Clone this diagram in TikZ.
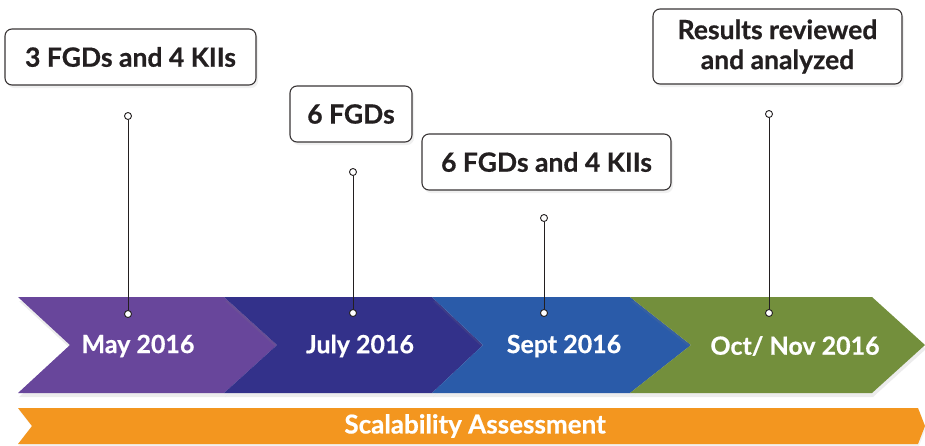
\documentclass[tikz,border=0pt]{standalone}
\usepackage{fontspec}
\setmainfont{Lato}[BoldFeatures={FakeBold=0.6}]
\usetikzlibrary{shadows}
\definecolor{cPurple}{HTML}{68469B}
\definecolor{cNavy}{HTML}{33318A}
\definecolor{cBlue}{HTML}{2A5BA9}
\definecolor{cGreen}{HTML}{738F3C}
\definecolor{cOrange}{HTML}{F3961F}
\definecolor{cText}{HTML}{231F20}
\begin{document}
\begin{tikzpicture}[x=1pt,y=-1pt,
  box/.style={draw=cText!90, line width=1.1pt, rounded corners=7pt, fill=white, align=center,
    font=\bfseries\fontsize{26.5}{30}\selectfont, text=cText, inner sep=0pt,
    drop shadow={shadow xshift=2pt,shadow yshift=-3pt,opacity=0.12}},
  datelbl/.style={text=white, font=\bfseries\fontsize{25}{28}\selectfont},
  dot/.style={circle, draw=cText, fill=white, line width=0.9pt, inner sep=0pt, minimum size=7pt},
  stem/.style={draw=cText, line width=1pt},
  chev/.style={drop shadow={shadow xshift=1pt,shadow yshift=-4pt,opacity=0.15}}]
\useasboundingbox (0,0) rectangle (925,445);
% chevrons
\fill[cPurple,chev] (18,297) -- (224,297) -- (277,345) -- (224,393) -- (18,393) -- (70,345) -- cycle;
\fill[cNavy,chev] (224,297) -- (432,297) -- (483,345) -- (432,393) -- (224,393) -- (277,345) -- cycle;
\fill[cBlue,chev] (432,297) -- (630,297) -- (691,345) -- (630,393) -- (432,393) -- (483,345) -- cycle;
\fill[cGreen,chev] (630,297) -- (872,297) -- (925,345) -- (872,393) -- (630,393) -- (691,345) -- cycle;
% orange bar
\fill[cOrange,drop shadow={shadow xshift=1pt,shadow yshift=-2pt,opacity=0.1}] (18,408) -- (918,408) -- (925,426) -- (918,444) -- (18,444) -- (32,426) -- cycle;
% labels
\node[datelbl] (may) at (138,346) {May 2016};
\node[datelbl] (jul) at (360,346) {July 2016};
\node[datelbl] (sep) at (564,346) {Sept 2016};
\node[datelbl] (oct) at (795,346) {Oct/ Nov 2016};
\node[datelbl, font=\bfseries\fontsize{26}{28}\selectfont] (scal) at (475,426) {Scalability Assessment};
% boxes
\node[box, minimum width=251pt, minimum height=56pt] (b1) at (130.5,57) {3 FGDs and 4 KIIs};
\node[box, minimum width=122pt, minimum height=56pt] (b2) at (351,114) {6 FGDs};
\node[box, minimum width=249pt, minimum height=56pt] (b3) at (546.5,162) {6 FGDs and 4 KIIs};
\node[box, minimum width=249pt, minimum height=75pt] (b4) at (777.5,46.5) {Results reviewed\\and analyzed};
% stems
\node[dot] (t1) at (128,116) {};
\node[dot] (d1) at (128,314) {};
\node[dot] (t2) at (353,172) {};
\node[dot] (d2) at (353,313) {};
\node[dot] (t3) at (544,218) {};
\node[dot] (d3) at (544,313) {};
\node[dot] (t4) at (769,114) {};
\node[dot] (d4) at (769,313) {};
\draw[stem] (t1) -- (d1);
\draw[stem] (t2) -- (d2);
\draw[stem] (t3) -- (d3);
\draw[stem] (t4) -- (d4);
\end{tikzpicture}
\end{document}
